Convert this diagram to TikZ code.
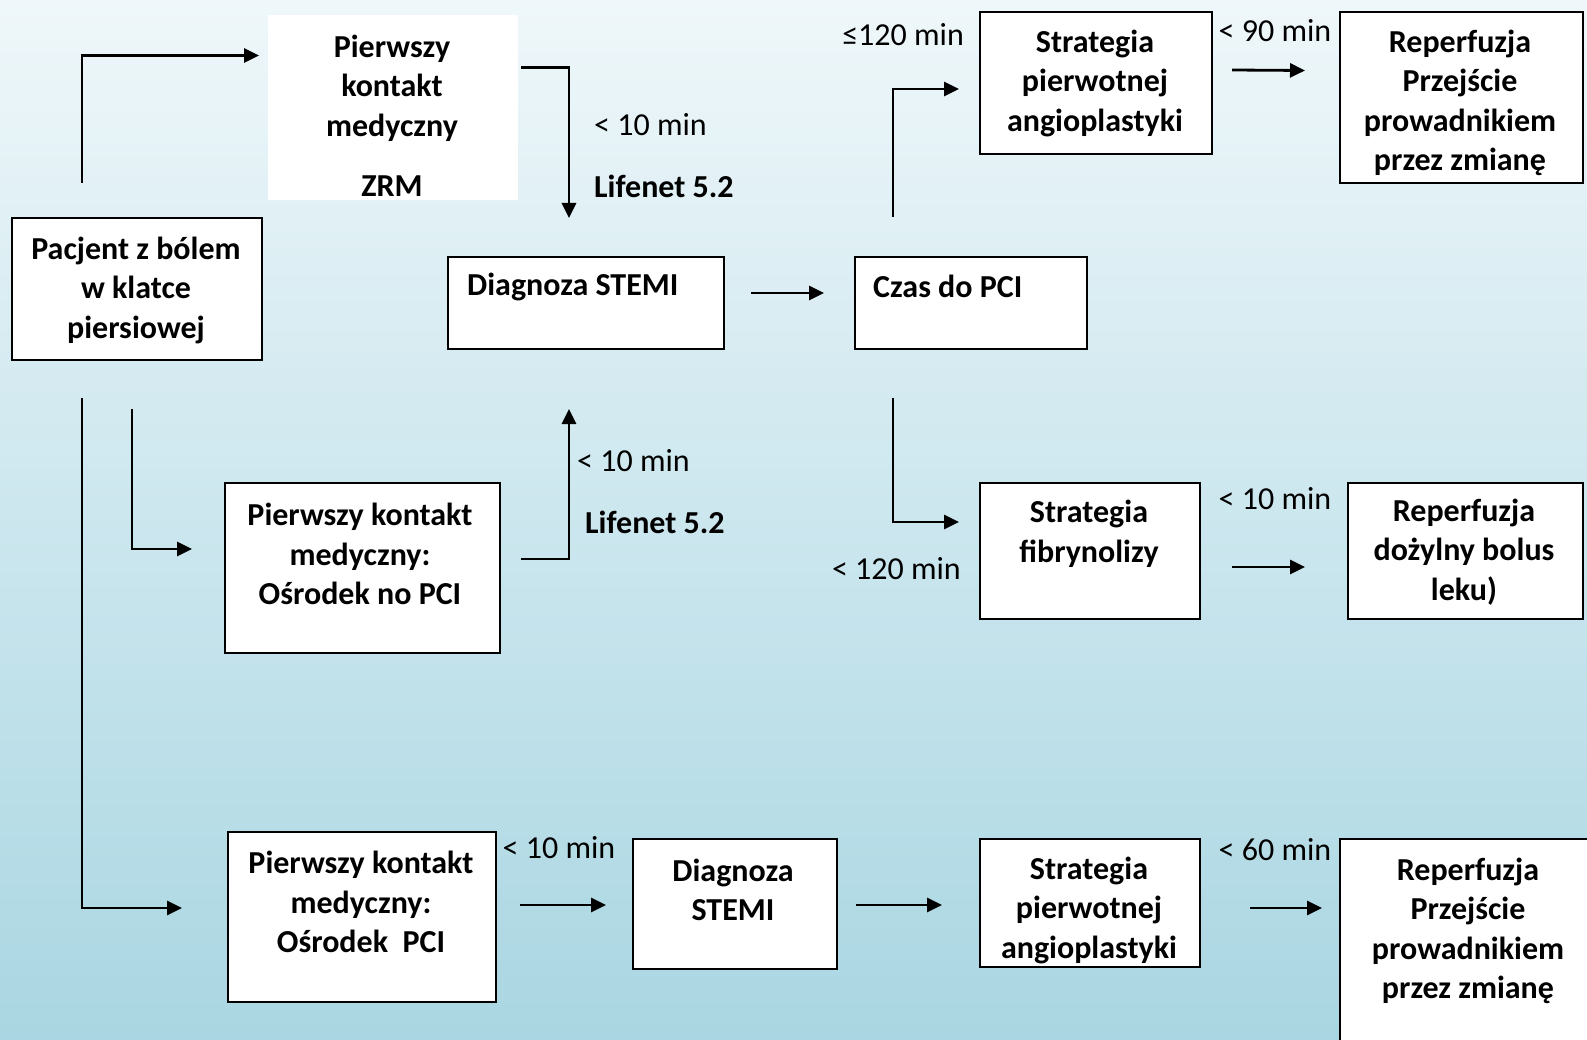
\documentclass[tikz,border=0pt]{standalone}
\usepackage{fontspec}
\setmainfont{Carlito}
\usetikzlibrary{arrows.meta}
\definecolor{bgtop}{HTML}{EFF7FA}
\definecolor{bgbot}{HTML}{A9D6E2}
\begin{document}
\begin{tikzpicture}[x=1pt,y=-1pt,
    box/.style={draw, line width=2pt, fill=white, anchor=north west, inner sep=0pt},
    txt/.style={align=center, inner sep=0pt, font=\bfseries\fontsize{32}{39.5}\selectfont},
    lbl/.style={inner sep=0pt, font=\fontsize{32}{39}\selectfont},
    arr/.style={line width=2.8pt, -{Triangle[length=15pt,width=14pt]}}]
    \useasboundingbox (0,0) rectangle (1587,1040);
    \clip (0,0) rectangle (1587,1040);
    \shade[top color=bgtop, bottom color=bgbot] (0,0) rectangle (1587,1040);
    % boxes
    \node[box, draw=none, minimum width=250pt, minimum height=185pt] (zrm) at (267,14) {};
    \foreach \n/\x/\y/\w/\h in {pac/11/217/250/142, diag/447/256/276/92, czas/854/256/232/92,
        strat/979/11/232/142, rep/1339/11/243/171, fib/979/482/220/136, repfib/1347/482/235/136,
        nopci/224/482/275/170, pci/227/831/268/170, diagpci/632/838/204/130,
        stratpci/979/838/220/128, reppci/1339/838/260/220}
        \node[box, minimum width=\w pt, minimum height=\h pt] (\n) at (\x,\y) {};
    % texts
    \node[txt] (pac-t) at (136,290) {Pacjent z bólem\\w klatce\\piersiowej};
    \node[txt] (zrm-t) at (392,116) {Pierwszy\\kontakt\\medyczny\\[21pt]ZRM};
    \node[txt, anchor=west] (diag-t) at (467,287) {Diagnoza STEMI};
    \node[txt, anchor=west] (czas-t) at (873,286) {Czas do PCI};
    \node[txt] (strat-t) at (1095,83) {Strategia\\pierwotnej\\angioplastyki};
    \node[txt] (rep-t) at (1460,103) {Reperfuzja\\Przejście\\prowadnikiem\\przez zmianę};
    \node[txt] (fib-t) at (1089,534) {Strategia\\fibrynolizy};
    \node[txt] (repfib-t) at (1464,552) {Reperfuzja\\dożylny bolus\\leku)};
    \node[txt] (nopci-t) at (360,554) {Pierwszy kontakt\\medyczny:\\Ośrodek no PCI};
    \node[txt] (pci-t) at (361,902) {Pierwszy kontakt\\medyczny:\\Ośrodek\ \ PCI};
    \node[txt] (diagpci-t) at (733,890) {Diagnoza\\STEMI};
    \node[txt] (stratpci-t) at (1089,910) {Strategia\\pierwotnej\\angioplastyki};
    \node[txt] (reppci-t) at (1468,931) {Reperfuzja\\Przejście\\prowadnikiem\\przez zmianę};
    % times
    \node[lbl, anchor=west] (t1) at (594,125) {< 10 min};
    \node[txt, anchor=west] (life1) at (594,186) {Lifenet 5.2};
    \node[lbl, anchor=east] (t2) at (964,35) {≤120 min};
    \node[lbl] (t3) at (1275,31) {< 90 min};
    \node[lbl, anchor=east] (t4) at (961,569) {< 120 min};
    \node[lbl] (t5) at (1275,499) {< 10 min};
    \node[lbl, anchor=west] (t6) at (577,461) {< 10 min};
    \node[txt, anchor=west] (life2) at (585,522) {Lifenet 5.2};
    \node[lbl] (t7) at (559,848) {< 10 min};
    \node[lbl] (t8) at (1275,850) {< 60 min};
    % arrows
    \draw[arr] ([shift={(-55,-34)}]pac.north) |- ([shift={(-8,-52)}]zrm.west);
    \draw[arr] ([shift={(2,-40)}]zrm.east) -| ([shift={(-17,-38)}]diag.north);
    \draw[arr] ([shift={(26,-10)}]diag.east) -- ([shift={(-30,-10)}]czas.west);
    \draw[arr] ([shift={(-78,-39)}]czas.north) |- ([shift={(-20,6)}]strat.west);
    \draw[arr] ([shift={(19,-13)}]strat.east) -- ([shift={(-34,-27)}]rep.west);
    \draw[arr] ([shift={(-78,48)}]czas.south) |- ([shift={(-20,-29)}]fib.west);
    \draw[arr] ([shift={(31,16)}]fib.east) -- ([shift={(-42,16)}]repfib.west);
    \draw[arr] ([shift={(-55,37)}]pac.south) |- ([shift={(-45,-9)}]pci.west);
    \draw[arr] ([shift={(-5,48)}]pac.south) |- ([shift={(-32,-19)}]nopci.west);
    \draw[arr] ([shift={(20,-9)}]nopci.east) -| ([shift={(-17,59)}]diag.south);
    \draw[arr] ([shift={(23,-12)}]pci.east) -- ([shift={(-26,1)}]diagpci.west);
    \draw[arr] ([shift={(18,1)}]diagpci.east) -- ([shift={(-37,2)}]stratpci.west);
    \draw[arr] ([shift={(49,5)}]stratpci.east) -- ([shift={(-17,-41)}]reppci.west);
\end{tikzpicture}
\end{document}
